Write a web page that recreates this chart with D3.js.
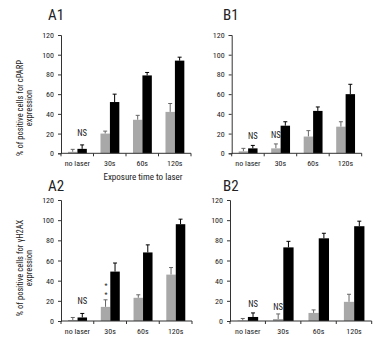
<!DOCTYPE html>
<html><head><meta charset="utf-8">
<script src="https://cdn.jsdelivr.net/npm/d3@7"></script>
<style>
html,body{margin:0;padding:0;background:#fff;}
svg text{font-family:"Liberation Sans Narrow","Arial Narrow","Roboto Condensed",sans-serif;fill:#222;}
</style></head>
<body>
<svg id="c" width="382" height="345"></svg>
<script>
const categories = ["no laser", "30s", "60s", "120s"];
const yTicks = [0, 20, 40, 60, 80, 100, 120];

const a1Gray = [1.5, 20, 34, 42];
const a1GrayErr = [2.5, 2.5, 4.5, 8.5];
const a1Black = [4.5, 52, 79, 94];
const a1BlackErr = [4, 8, 3, 3.5];

const b1Gray = [2, 5, 17, 27];
const b1GrayErr = [3, 4.5, 6, 5];
const b1Black = [5, 28, 43, 60];
const b1BlackErr = [3, 4, 4, 10];

const a2Gray = [1, 14, 23, 46];
const a2GrayErr = [2.5, 7, 3, 7];
const a2Black = [3.5, 49, 68, 96];
const a2BlackErr = [4, 8.5, 7.5, 5];

const b2Gray = [0.5, 2, 8, 19];
const b2GrayErr = [2, 5, 3, 7.5];
const b2Black = [4, 73, 82, 94];
const b2BlackErr = [4, 6, 5, 5];

const svg = d3.select("#c");

const panels = [
  {title:"A1", gray:a1Gray, gErr:a1GrayErr, black:a1Black, bErr:a1BlackErr,
   x0:61, x1:191, y0:153.3, y1:35, tx:48, ty:19.5,
   ylab:["% of positive cells for cPARP","expression"], yl:108,
   ann:[{cat:0, s:"black", t:"NS", dy:-9}]},
  {title:"B1", gray:b1Gray, gErr:b1GrayErr, black:b1Black, bErr:b1BlackErr,
   x0:231.7, x1:361.7, y0:153.3, y1:35, tx:223, ty:19.5,
   ann:[{cat:0, s:"black", t:"NS", dy:-6}, {cat:1, s:"gray", t:"NS", dy:-6}]},
  {title:"A2", gray:a2Gray, gErr:a2GrayErr, black:a2Black, bErr:a2BlackErr,
   x0:61, x1:192, y0:321, y1:200, tx:48, ty:190.5,
   ylab:["% of positive cells for \u03b3H2AX","expression"], yl:268,
   ann:[{cat:0, s:"black", t:"NS", dy:-9}]},
  {title:"B2", gray:b2Gray, gErr:b2GrayErr, black:b2Black, bErr:b2BlackErr,
   x0:230, x1:371.7, y0:321, y1:200, tx:223, ty:190.5,
   ann:[{cat:0, s:"black", t:"NS", dy:-6}, {cat:1, s:"gray", t:"NS", dy:-4}]}
];

panels.forEach(p => {
  const g = svg.append("g");
  const x = d3.scaleBand().domain(categories).range([p.x0, p.x1]).padding(0);
  const y = d3.scaleLinear().domain([0, 120]).range([p.y0, p.y1]);
  const bw = x.bandwidth() * 0.29;
  const off = x.bandwidth() * 0.215;

  const series = [
    {vals:p.gray, err:p.gErr, fill:"#a8a8a8", ec:"#666", dx:off},
    {vals:p.black, err:p.bErr, fill:"#000", ec:"#000", dx:off + bw}
  ];
  series.forEach(s => {
    categories.forEach((c, i) => {
      const bx = x(c) + s.dx;
      const cx = bx + bw / 2;
      g.append("line").attr("x1", cx).attr("x2", cx)
        .attr("y1", y(s.vals[i])).attr("y2", y(s.vals[i] + s.err[i]))
        .attr("stroke", s.ec).attr("stroke-width", 1);
      g.append("line").attr("x1", cx - 2).attr("x2", cx + 2)
        .attr("y1", y(s.vals[i] + s.err[i])).attr("y2", y(s.vals[i] + s.err[i]))
        .attr("stroke", s.ec).attr("stroke-width", 1);
      g.append("rect").attr("x", bx).attr("width", bw)
        .attr("y", y(s.vals[i])).attr("height", y(0) - y(s.vals[i]))
        .attr("fill", s.fill);
    });
  });

  const ya = g.append("g").attr("transform", `translate(${p.x0},0)`)
    .call(d3.axisLeft(y).tickValues(yTicks).tickSize(3).tickPadding(4));
  ya.select(".domain").attr("stroke", "#333");
  ya.selectAll(".tick line").attr("stroke", "#333");
  ya.selectAll("text").attr("font-size", "8px").attr("fill", "#222")
    .attr("font-family", '"Liberation Sans Narrow","Arial Narrow",sans-serif');

  g.append("line").attr("x1", p.x0).attr("x2", p.x1).attr("y1", y(0)).attr("y2", y(0))
    .attr("stroke", "#333");
  const bounds = categories.map(c => x(c)).concat([p.x1]);
  bounds.forEach(b => {
    g.append("line").attr("x1", b).attr("x2", b).attr("y1", y(0)).attr("y2", y(0) + 3)
      .attr("stroke", "#333");
  });
  categories.forEach(c => {
    g.append("text").attr("x", x(c) + x.bandwidth() / 2).attr("y", y(0) + 13)
      .attr("text-anchor", "middle").attr("font-size", "8px").text(c);
  });

  g.append("text").attr("x", p.tx).attr("y", p.ty).attr("font-size", "15px")
    .attr("font-family", '"Liberation Sans","Open Sans",sans-serif').text(p.title);

  if (p.ylab) {
    p.ylab.forEach((t, k) => {
      g.append("text").attr("transform", `translate(${23 + k * 9},${p.yl}) rotate(-90)`)
        .attr("text-anchor", "middle").attr("font-size", "8.5px").text(t);
    });
  }

  p.ann.forEach(a => {
    const i = a.cat;
    const s = a.s === "black" ? {v:p.black, e:p.bErr, dx:off + bw} : {v:p.gray, e:p.gErr, dx:off};
    const cx = x(categories[i]) + s.dx + bw / 2;
    g.append("text").attr("x", cx).attr("y", y(s.v[i] + s.e[i]) + a.dy)
      .attr("text-anchor", "middle").attr("font-size", "8.5px").text(a.t);
  });
});

// stacked asterisks over A2 30s gray bar
{
  const p = panels[2];
  const x = d3.scaleBand().domain(categories).range([p.x0, p.x1]);
  const y = d3.scaleLinear().domain([0, 120]).range([p.y0, p.y1]);
  const cx = x("30s") + x.bandwidth() * 0.215 + x.bandwidth() * 0.29 * 0.55;
  const top = y(a2Gray[1] + a2GrayErr[1]);
  [11.5, 3.3].forEach(d => {
    svg.append("text").attr("x", cx).attr("y", top - d)
      .attr("text-anchor", "middle").attr("font-size", "7px").text("*");
  });
}

svg.append("text").attr("x", 143).attr("y", 180).attr("text-anchor", "middle")
  .attr("font-size", "9px").text("Exposure time to laser");
</script>
</body></html>
